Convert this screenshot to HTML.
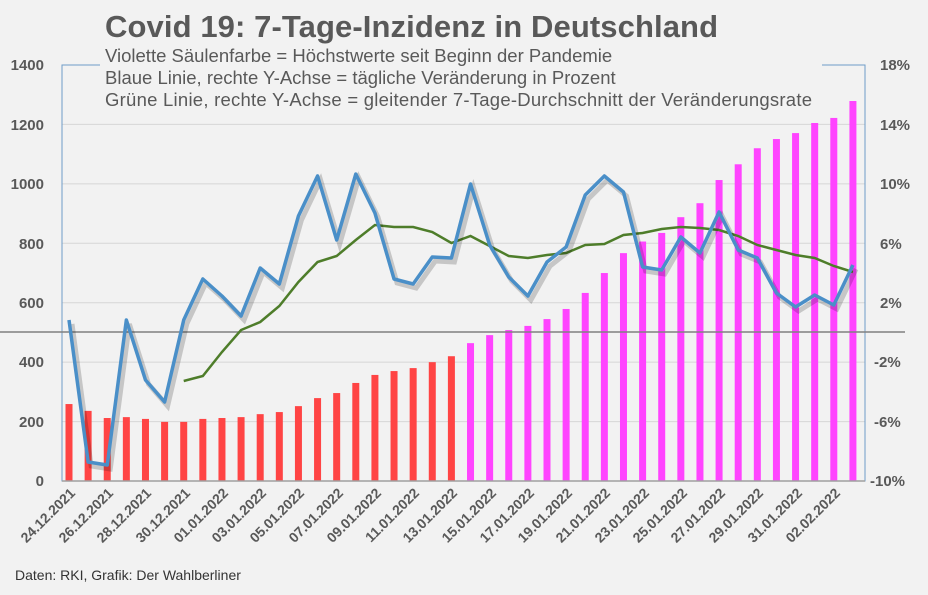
<!DOCTYPE html>
<html><head><meta charset="utf-8"><style>
body{margin:0;background:#f2f2f2;}
svg{display:block;font-family:"Liberation Sans",sans-serif;}
</style></head><body>
<svg id="s" width="928" height="595" xmlns="http://www.w3.org/2000/svg">
<rect width="928" height="595" fill="#f2f2f2"/>
<g stroke="#d6d6d6" stroke-width="1">
<line x1="62" y1="124.4" x2="865" y2="124.4"/><line x1="62" y1="183.9" x2="865" y2="183.9"/>
<line x1="62" y1="243.3" x2="865" y2="243.3"/><line x1="62" y1="302.7" x2="865" y2="302.7"/>
<line x1="62" y1="362.1" x2="865" y2="362.1"/><line x1="62" y1="421.6" x2="865" y2="421.6"/>
</g>
<rect x="62" y="65" width="803" height="416" fill="none" stroke="#6f9cc8" stroke-width="1"/>
<rect x="100" y="44" width="722" height="66" fill="#f2f2f2"/>
<g id="bars"></g>
<line x1="0" y1="332" x2="905" y2="332" stroke="#808080" stroke-width="1.5"/>
<line x1="62" y1="481" x2="865" y2="481" stroke="#a0a0a0" stroke-width="1.5"/>
<g font-size="15" font-weight="bold" fill="#595959" text-anchor="end">
<text x="44" y="70">1400</text><text x="44" y="130">1200</text><text x="44" y="189">1000</text>
<text x="44" y="249">800</text><text x="44" y="308">600</text><text x="44" y="367">400</text>
<text x="44" y="427">200</text><text x="44" y="486">0</text>
</g>
<g font-size="15" font-weight="bold" fill="#595959" text-anchor="start">
<text x="880" y="70">18%</text><text x="880" y="130">14%</text><text x="880" y="189">10%</text>
<text x="880" y="249">6%</text><text x="880" y="308">2%</text><text x="874" y="367">-2%</text>
<text x="874" y="427">-6%</text><text x="870" y="486">-10%</text>
</g>
<polyline id="green" fill="none" stroke="#4e7d2a" stroke-width="2.5"/>
<polyline id="blueS" fill="none" stroke="#000" stroke-opacity="0.18" stroke-width="5" transform="translate(3,4)"/>
<polyline id="blue" fill="none" stroke="#4a8fc8" stroke-width="3.5" stroke-linejoin="round"/>
<text x="105" y="37" font-size="31" font-weight="bold" fill="#595959" textLength="613">Covid 19: 7-Tage-Inzidenz in Deutschland</text>
<g font-size="18.5" fill="#595959">
<text x="105" y="62">Violette Säulenfarbe = Höchstwerte seit Beginn der Pandemie</text>
<text x="105" y="84">Blaue Linie, rechte Y-Achse = tägliche Veränderung in Prozent</text>
<text x="105" y="106" textLength="707">Grüne Linie, rechte Y-Achse = gleitender 7-Tage-Durchschnitt der Veränderungsrate</text>
</g>
<text x="15" y="580" font-size="14" fill="#333">Daten: RKI, Grafik: Der Wahlberliner</text>
<g id="labels" font-size="14" font-weight="bold" fill="#595959" text-anchor="end">
<text transform="translate(76,494) rotate(-45)">24.12.2021</text>
<text transform="translate(114,494) rotate(-45)">26.12.2021</text>
<text transform="translate(152,494) rotate(-45)">28.12.2021</text>
<text transform="translate(191,494) rotate(-45)">30.12.2021</text>
<text transform="translate(229,494) rotate(-45)">01.01.2022</text>
<text transform="translate(267,494) rotate(-45)">03.01.2022</text>
<text transform="translate(305,494) rotate(-45)">05.01.2022</text>
<text transform="translate(344,494) rotate(-45)">07.01.2022</text>
<text transform="translate(382,494) rotate(-45)">09.01.2022</text>
<text transform="translate(420,494) rotate(-45)">11.01.2022</text>
<text transform="translate(458,494) rotate(-45)">13.01.2022</text>
<text transform="translate(497,494) rotate(-45)">15.01.2022</text>
<text transform="translate(535,494) rotate(-45)">17.01.2022</text>
<text transform="translate(573,494) rotate(-45)">19.01.2022</text>
<text transform="translate(611,494) rotate(-45)">21.01.2022</text>
<text transform="translate(650,494) rotate(-45)">23.01.2022</text>
<text transform="translate(688,494) rotate(-45)">25.01.2022</text>
<text transform="translate(726,494) rotate(-45)">27.01.2022</text>
<text transform="translate(764,494) rotate(-45)">29.01.2022</text>
<text transform="translate(803,494) rotate(-45)">31.01.2022</text>
<text transform="translate(841,494) rotate(-45)">02.02.2022</text>
</g>
</svg>
<script>
var v=[259,236,212,215,209,199,199,209,212,215,225,232,252,279,296,330,357,370,380,400,420,464,491,508,522,545,579,633,700,767,806,835,888,935,1013,1066,1120,1151,1171,1205,1222,1279];
var ns="http://www.w3.org/2000/svg",g=document.getElementById("bars");
function X(i){return 69+i*19.12;}
v.forEach(function(d,i){var r=document.createElementNS(ns,"rect");var h=d*0.2971;
r.setAttribute("x",X(i)-3.5);r.setAttribute("y",481-h);r.setAttribute("width",7);r.setAttribute("height",h);
r.setAttribute("fill",i<21?"#ff4444":"#ff44ff");g.appendChild(r);});
var b=[320,462,465,320,380,402,320,279,296,316,268,284,216,176,240,174,213,279,284,257,258,184,245,277,296,262,247,195,176,192,267,270,237,253,212,250,258,293,307,295,305,265];
var p=b.map(function(y,i){return X(i)+","+y;}).join(" ");
document.getElementById("blue").setAttribute("points",p);
document.getElementById("blueS").setAttribute("points",p);
var gr=[381,376,352,330,322,306,282,262,256,240,225,227,227,232,243,236,246,256,258,255,253,245,244,235,233,229,227,228,230,236,245,250,255,258,266,272];
document.getElementById("green").setAttribute("points",gr.map(function(y,i){return X(i+6)+","+y;}).join(" "));
</script>
</body></html>
